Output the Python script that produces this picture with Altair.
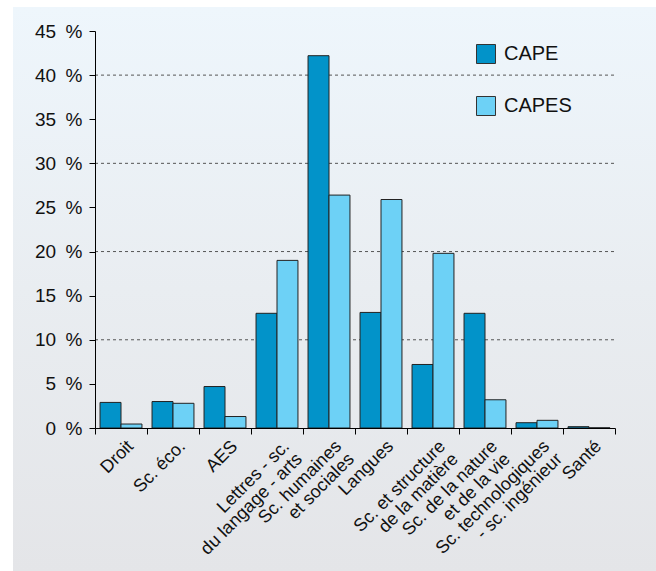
import altair as alt
import pandas as pd

categories = [
    "Droit",
    "Sc. éco.",
    "AES",
    "Lettres - sc.\ndu langage - arts",
    "Sc. humaines\net sociales",
    "Langues",
    "Sc. et structure\nde la matière",
    "Sc. de la nature\net de la vie",
    "Sc. technologiques\n- sc. ingénieur",
    "Santé",
]
series = ["CAPE", "CAPES"]
cape = [2.9, 3.0, 4.7, 13.0, 42.2, 13.1, 7.2, 13.0, 0.6, 0.15]
capes = [0.45, 2.8, 1.3, 19.0, 26.4, 25.9, 19.8, 3.2, 0.87, 0.02]
y_ticks = [0, 5, 10, 15, 20, 25, 30, 35, 40, 45]
grid_values = [10, 20, 30, 40]
colors = ["#0293c9", "#6dd1f6"]

rows = []
for c, a, b in zip(categories, cape, capes):
    rows.append({"cat": c, "series": series[0], "value": a})
    rows.append({"cat": c, "series": series[1], "value": b})
df = pd.DataFrame(rows)

FONT = "Liberation Sans"

y_scale = alt.Scale(domain=[0, 45], nice=False)
y_axis = alt.Axis(
    title=None,
    zindex=1,
    values=y_ticks,
    grid=False,
    labelExpr="datum.value + '\u2002%'",
    labelFont=FONT,
    labelFontSize=19,
    labelColor="#111111",
    labelPadding=7,
    tickSize=6,
    tickColor="#000000",
    domainColor="#000000",
)

bg = alt.Chart(pd.DataFrame({"a": [0]})).mark_rect(
    color=alt.LinearGradient(
        gradient="linear",
        stops=[
            alt.GradientStop(color="#eef6fc", offset=0),
            alt.GradientStop(color="#e9edf1", offset=0.5),
            alt.GradientStop(color="#e4e5e8", offset=1),
        ],
        x1=0, x2=0, y1=0, y2=1,
    )
).encode(
    x=alt.value(-82), x2=alt.value(561), y=alt.value(-24), y2=alt.value(540)
)

grid = alt.Chart(pd.DataFrame({"g": grid_values})).mark_rule(
    color="#555555", strokeDash=[3, 3], strokeWidth=1
).encode(
    y=alt.Y("g:Q", scale=y_scale, axis=y_axis),
    x=alt.value(0), x2=alt.value(520),
)

bars = alt.Chart(df).mark_bar(stroke="#222222", strokeWidth=1).encode(
    x=alt.X(
        "cat:N",
        sort=categories,
        scale=alt.Scale(paddingInner=0, paddingOuter=0),
        axis=alt.Axis(
            title=None,
            zindex=1,
            labelAngle=-45,
            labelAlign="right",
            labelBaseline="top",
            tickBand="extent",
            labelExpr="isValid(datum.value) ? split(datum.value, '\\n') : ''",
            labelFont=FONT,
            labelFontSize=18,
            labelLineHeight=18,
            labelColor="#111111",
            labelPadding=3,
            labelOffset=3,
            tickSize=6,
            tickColor="#000000",
            domainColor="#000000",
            labelOverlap=False,
            labelLimit=300,
        ),
    ),
    xOffset=alt.XOffset(
        "series:N", sort=series, scale=alt.Scale(paddingInner=0, paddingOuter=0.24)
    ),
    y=alt.Y("value:Q", scale=y_scale, axis=y_axis),
    color=alt.Color(
        "series:N",
        scale=alt.Scale(domain=series, range=colors),
        legend=alt.Legend(
            title=None,
            orient="none",
            legendX=381,
            legendY=13,
            padding=0,
            symbolType="square",
            symbolSize=361,
            symbolStrokeColor="#333333",
            symbolStrokeWidth=1,
            symbolOpacity=1,
            labelFont=FONT,
            labelFontSize=20,
            labelColor="#111111",
            labelOffset=8,
            rowPadding=28,
        ),
    ),
)

chart = alt.layer(bg, grid, bars).properties(
    width=520,
    height=397,
    padding={"left": 95, "top": 31, "right": 41, "bottom": 143},
    autosize=alt.AutoSizeParams(type="none"),
    background="white",
).configure_view(stroke=None)

chart.save("out.html", embed_options={"renderer": "svg", "actions": False})
